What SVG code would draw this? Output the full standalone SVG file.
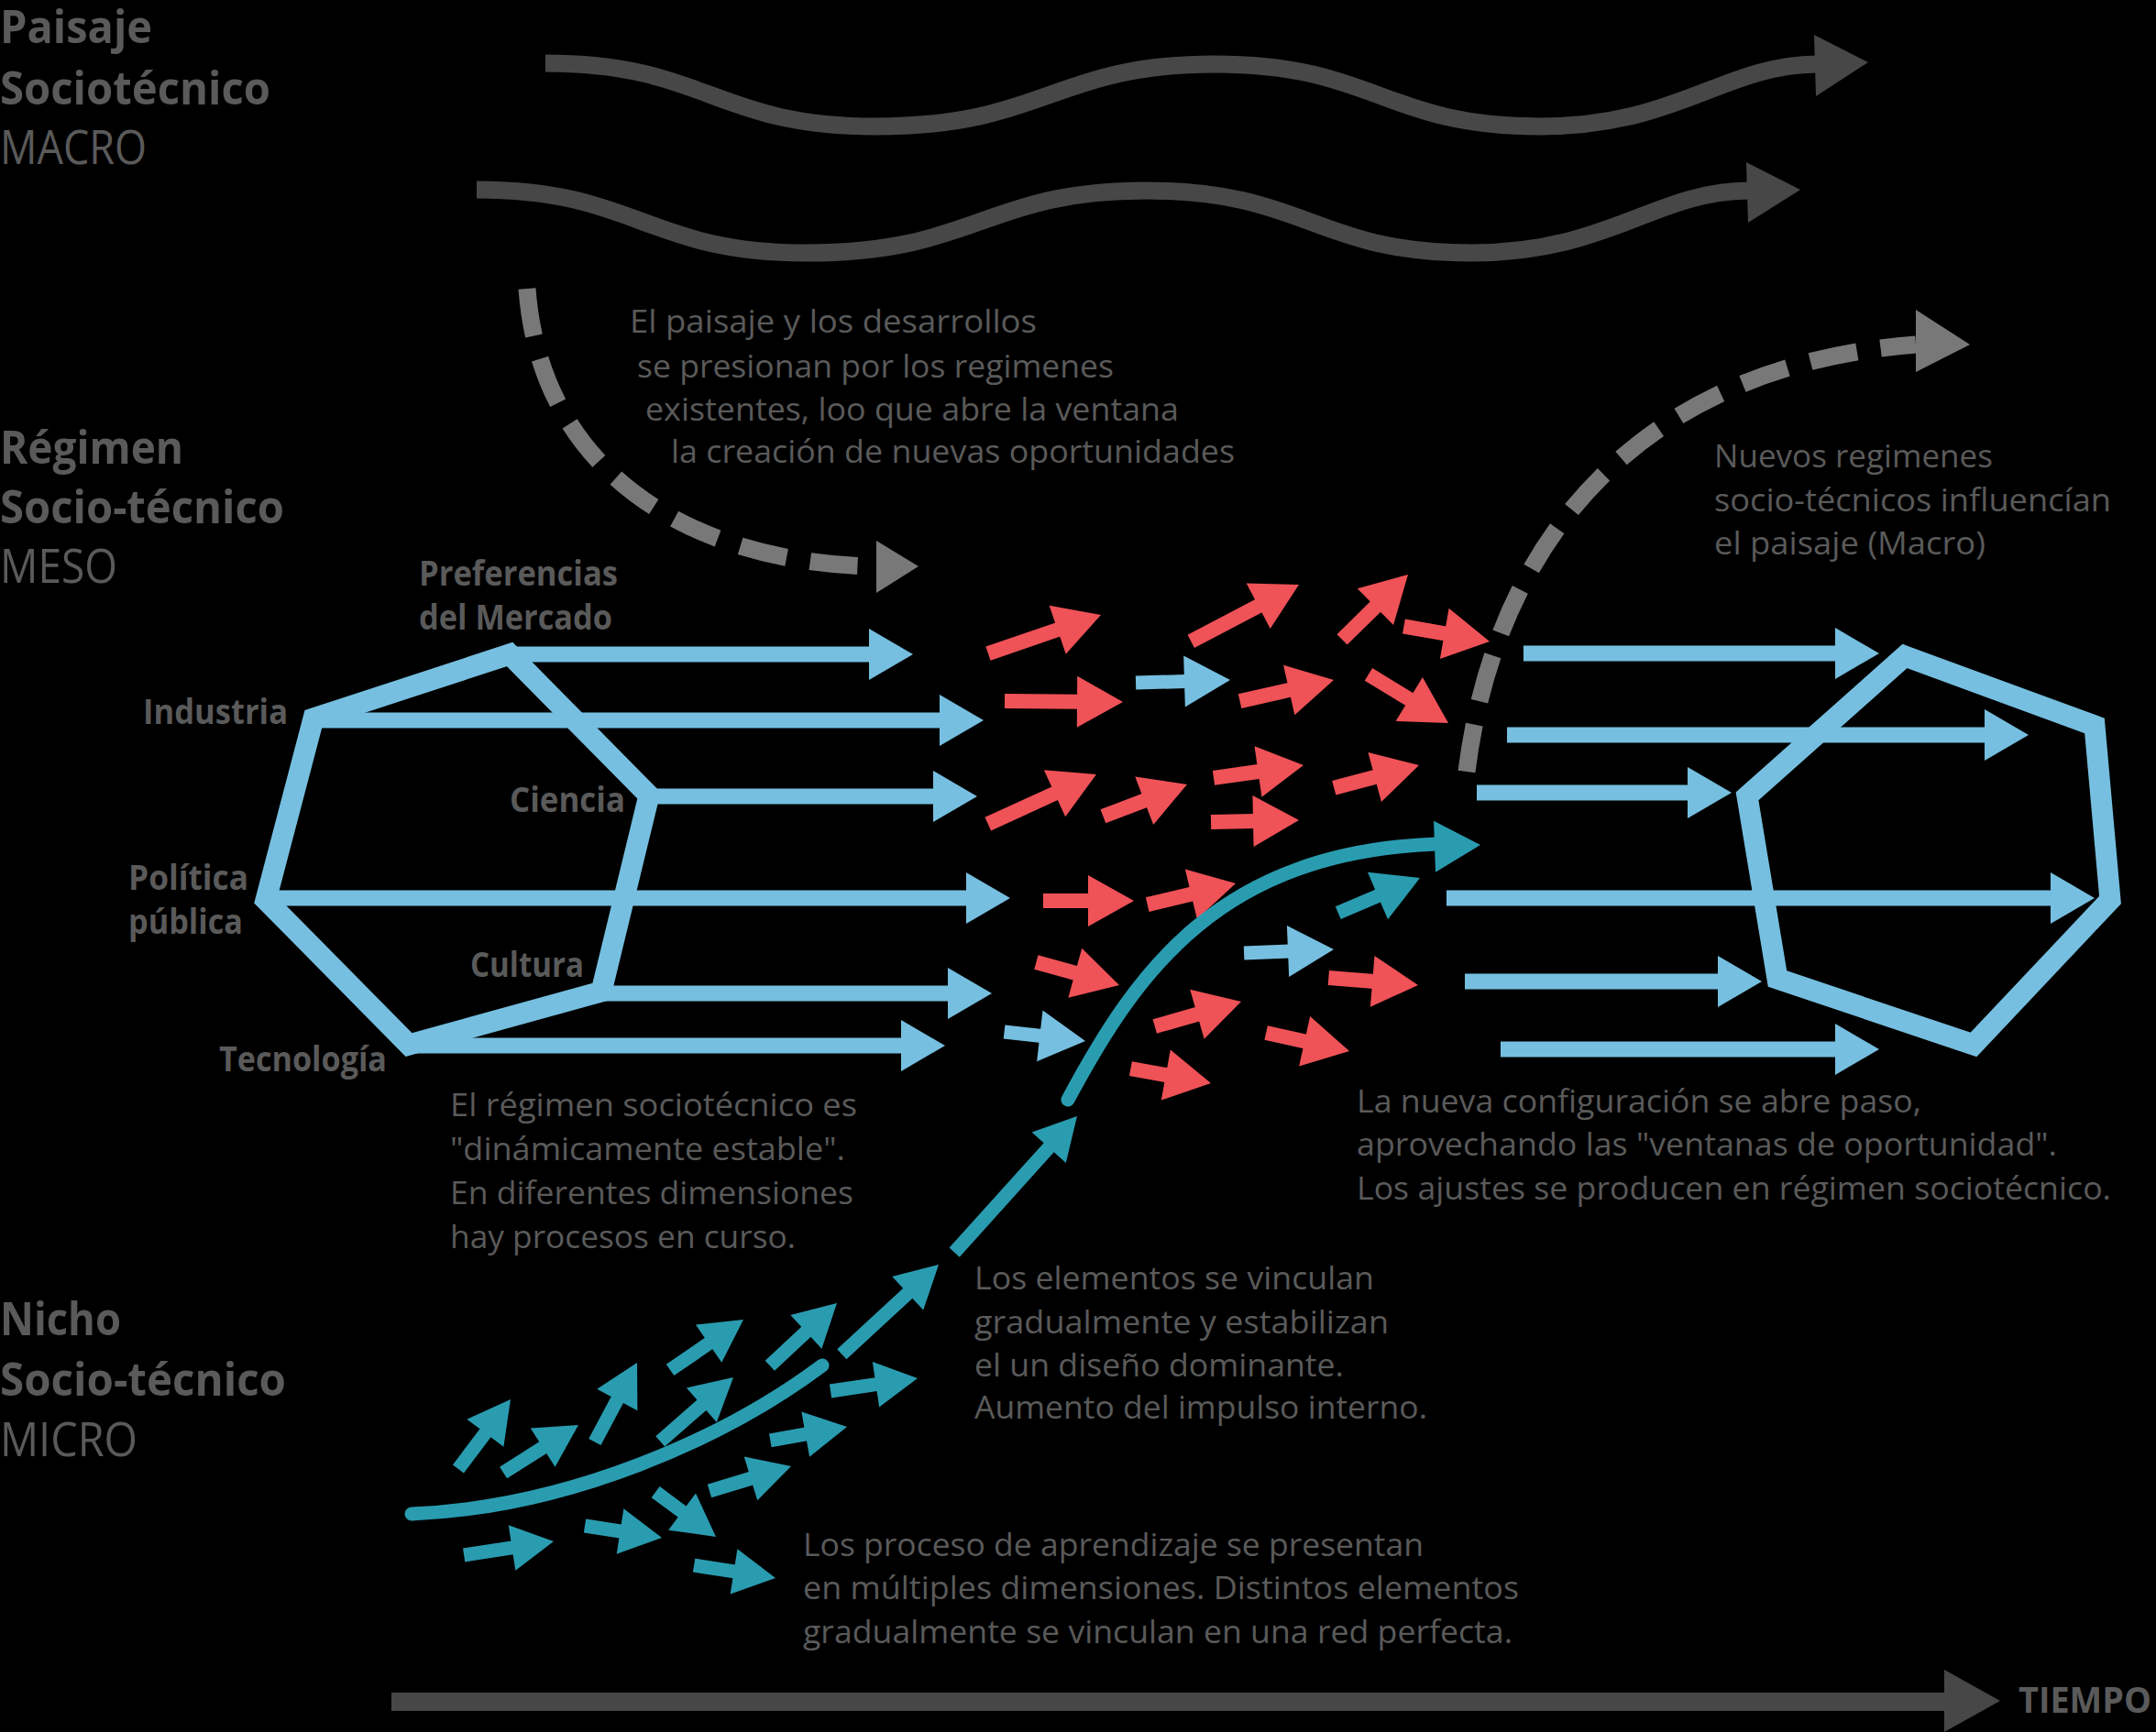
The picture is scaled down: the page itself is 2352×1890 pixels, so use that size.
<svg xmlns="http://www.w3.org/2000/svg" width="2352" height="1890" viewBox="0 0 2352 1890">
<defs>
<style>
.t{font-family:"Open Sans","Noto Sans","Liberation Sans",sans-serif;fill:#5a5a5a;font-size:34px;font-weight:500}
.b{font-weight:700}
.lb{font-size:38px;font-weight:700}
.ti{font-size:51px}
.wave{fill:none;stroke:#474747;stroke-width:19}
.wh{fill:#474747}
.dash{fill:none;stroke:#787878;stroke-width:19;stroke-dasharray:52 26}
.dh{fill:#787878}
.hex{fill:none;stroke:#76bfe0;stroke-width:23;stroke-linejoin:miter}
.la{stroke:#76bfe0;fill:#76bfe0;stroke-width:17}
.ra{stroke:#ef5257;fill:#ef5257;stroke-width:16}
.ba{stroke:#76bfe0;fill:#76bfe0;stroke-width:15}
.ta{stroke:#2a9cb0;fill:#2a9cb0;stroke-width:15}
.tc{fill:none;stroke:#2a9cb0;stroke-width:15;stroke-linecap:round}
</style>
<polygon id="h" points="0,0 -50,-28 -50,28" stroke="none"/>
<polygon id="hs" points="0,0 -46,-25 -46,25" stroke="none"/>
<polygon id="hb" points="0,0 -48,-28 -48,28" stroke="none"/>
</defs>
<rect width="2352" height="1890" fill="#000"/>

<g id="title-macro" class="t">
<text x="0" y="47" class="b ti" textLength="166" lengthAdjust="spacingAndGlyphs">Paisaje</text>
<text x="0" y="114" class="b ti" textLength="295" lengthAdjust="spacingAndGlyphs">Sociotécnico</text>
<text x="0" y="179" class="ti" textLength="160" lengthAdjust="spacingAndGlyphs">MACRO</text>
</g>
<g id="title-meso" class="t">
<text x="0" y="506" class="b ti" textLength="200" lengthAdjust="spacingAndGlyphs">Régimen</text>
<text x="0" y="571" class="b ti" textLength="310" lengthAdjust="spacingAndGlyphs">Socio-técnico</text>
<text x="0" y="636" class="ti" textLength="128" lengthAdjust="spacingAndGlyphs">MESO</text>
</g>
<g id="title-micro" class="t">
<text x="0" y="1457" class="b ti" textLength="132" lengthAdjust="spacingAndGlyphs">Nicho</text>
<text x="0" y="1523" class="b ti" textLength="312" lengthAdjust="spacingAndGlyphs">Socio-técnico</text>
<text x="0" y="1589" class="ti" textLength="150" lengthAdjust="spacingAndGlyphs">MICRO</text>
</g>

<g id="connectors">
<!-- landscape waves -->
<path class="wave" d="M595,69 C770,69 780,138 955,138 C1140,138 1150,70 1325,70 C1500,70 1510,138 1680,138 C1830,138 1880,71 1982,70"/>
<polygon class="wh" points="1979,38 2038,68 1981,105"/>
<path class="wave" d="M520,207 C695,207 705,276 880,276 C1065,276 1075,208 1250,208 C1425,208 1435,276 1605,276 C1755,276 1805,209 1907,208"/>
<polygon class="wh" points="1905,177 1964,207 1907,243"/>

<!-- dashed pressure arrows -->
<path class="dash" d="M575,315 C590,520 760,615 955,618"/>
<polygon class="dh" points="956,590 1002,618 956,647"/>
<path class="dash" d="M1600,842 C1630,600 1780,400 2090,376"/>
<polygon class="dh" points="2090,338 2149,376 2090,406"/>

<!-- left regime arrows -->
<g class="la" transform="translate(996,714)"><line x1="-437" x2="-46"/><use href="#hb"/></g>
<g class="la" transform="translate(1073,786)"><line x1="-731" x2="-46"/><use href="#hb"/></g>
<g class="la" transform="translate(1066,869)"><line x1="-358" x2="-46"/><use href="#hb"/></g>
<g class="la" transform="translate(1102,980)"><line x1="-812" x2="-46"/><use href="#hb"/></g>
<g class="la" transform="translate(1082,1084)"><line x1="-424" x2="-46"/><use href="#hb"/></g>
<g class="la" transform="translate(1031,1141)"><line x1="-585" x2="-46"/><use href="#hb"/></g>

<!-- right regime arrows -->
<g class="la" transform="translate(2050,713)"><line x1="-388" x2="-46"/><use href="#hb"/></g>
<g class="la" transform="translate(2213,802)"><line x1="-569" x2="-46"/><use href="#hb"/></g>
<g class="la" transform="translate(1889,865)"><line x1="-278" x2="-46"/><use href="#hb"/></g>
<g class="la" transform="translate(2285,980)"><line x1="-707" x2="-46"/><use href="#hb"/></g>
<g class="la" transform="translate(1922,1071)"><line x1="-324" x2="-46"/><use href="#hb"/></g>
<g class="la" transform="translate(2050,1145)"><line x1="-413" x2="-46"/><use href="#hb"/></g>

<!-- red turbulence arrows -->
<g class="ra" transform="translate(1201,671) rotate(-18.9)"><line x1="-130" x2="-48"/><use href="#h"/></g>
<g class="ra" transform="translate(1417,638) rotate(-27.7)"><line x1="-133" x2="-48"/><use href="#h"/></g>
<g class="ra" transform="translate(1536,627) rotate(-44.6)"><line x1="-101" x2="-48"/><use href="#h"/></g>
<g class="ra" transform="translate(1625,700) rotate(10)"><line x1="-95" x2="-48"/><use href="#h"/></g>
<g class="ra" transform="translate(1225,766) rotate(0.4)"><line x1="-129" x2="-48"/><use href="#h"/></g>
<g class="ra" transform="translate(1455,742) rotate(-12.7)"><line x1="-105" x2="-48"/><use href="#h"/></g>
<g class="ra" transform="translate(1580,789) rotate(31.4)"><line x1="-102" x2="-48"/><use href="#h"/></g>
<g class="ra" transform="translate(1196,845) rotate(-24.6)"><line x1="-130" x2="-48"/><use href="#h"/></g>
<g class="ra" transform="translate(1295,856) rotate(-20.8)"><line x1="-98" x2="-48"/><use href="#h"/></g>
<g class="ra" transform="translate(1422,835) rotate(-8.1)"><line x1="-99" x2="-48"/><use href="#h"/></g>
<g class="ra" transform="translate(1548,835) rotate(-15)"><line x1="-96" x2="-48"/><use href="#h"/></g>
<g class="ra" transform="translate(1417,895) rotate(-1.2)"><line x1="-96" x2="-48"/><use href="#h"/></g>
<g class="ra" transform="translate(1237,983)"><line x1="-99" x2="-48"/><use href="#h"/></g>
<g class="ra" transform="translate(1348,964) rotate(-13.5)"><line x1="-99" x2="-48"/><use href="#h"/></g>
<g class="ra" transform="translate(1221,1075) rotate(15.4)"><line x1="-94" x2="-48"/><use href="#h"/></g>
<g class="ra" transform="translate(1547,1075) rotate(4.7)"><line x1="-98" x2="-48"/><use href="#h"/></g>
<g class="ra" transform="translate(1354,1093) rotate(-16)"><line x1="-98" x2="-48"/><use href="#h"/></g>
<g class="ra" transform="translate(1472,1147) rotate(12.4)"><line x1="-93" x2="-48"/><use href="#h"/></g>
<g class="ra" transform="translate(1321,1182) rotate(10.3)"><line x1="-89" x2="-48"/><use href="#h"/></g>

<!-- small blue and teal arrows in regime -->
<g class="ba" transform="translate(1342,742) rotate(-1.7)"><line x1="-103" x2="-48"/><use href="#h"/></g>
<g class="ba" transform="translate(1455,1036) rotate(-2.3)"><line x1="-98" x2="-48"/><use href="#h"/></g>
<g class="ba" transform="translate(1184,1136) rotate(6.5)"><line x1="-89" x2="-48"/><use href="#h"/></g>
<g class="ta" transform="translate(1549,958) rotate(-23.1)"><line x1="-97" x2="-48"/><use href="#h"/></g>

<!-- niche curve and emerging trajectory -->
<path class="tc" d="M449,1652 C620,1645 790,1570 897,1490"/>
<path class="tc" d="M1165,1200 C1240,1060 1330,930 1567,921"/>
<g class="ta" transform="translate(1615,922) rotate(-2)"><use href="#h"/></g>
<g class="ta" transform="translate(1024,1380) rotate(-42.8)"><line x1="-144" x2="-44"/><use href="#hs"/></g>
<g class="ta" transform="translate(1175,1218) rotate(-48)"><line x1="-200" x2="-44"/><use href="#hs"/></g>

<!-- niche small arrows -->
<g class="ta" transform="translate(557,1527) rotate(-53.1)"><line x1="-95" x2="-44"/><use href="#hs"/></g>
<g class="ta" transform="translate(631,1555) rotate(-32.4)"><line x1="-97" x2="-44"/><use href="#hs"/></g>
<g class="ta" transform="translate(695,1487) rotate(-61.9)"><line x1="-98" x2="-44"/><use href="#hs"/></g>
<g class="ta" transform="translate(811,1440) rotate(-34.5)"><line x1="-97" x2="-44"/><use href="#hs"/></g>
<g class="ta" transform="translate(800,1503) rotate(-41.2)"><line x1="-106" x2="-44"/><use href="#hs"/></g>
<g class="ta" transform="translate(913,1422) rotate(-43)"><line x1="-100" x2="-44"/><use href="#hs"/></g>
<g class="ta" transform="translate(1001,1504) rotate(-8.4)"><line x1="-96" x2="-44"/><use href="#hs"/></g>
<g class="ta" transform="translate(924,1557) rotate(-10.1)"><line x1="-85" x2="-44"/><use href="#hs"/></g>
<g class="ta" transform="translate(863,1600) rotate(-16.9)"><line x1="-93" x2="-44"/><use href="#hs"/></g>
<g class="ta" transform="translate(781,1677) rotate(36.6)"><line x1="-82" x2="-44"/><use href="#hs"/></g>
<g class="ta" transform="translate(722,1678) rotate(8.8)"><line x1="-85" x2="-44"/><use href="#hs"/></g>
<g class="ta" transform="translate(604,1682) rotate(-8.7)"><line x1="-99" x2="-44"/><use href="#hs"/></g>
<g class="ta" transform="translate(846,1722) rotate(8.9)"><line x1="-90" x2="-44"/><use href="#hs"/></g>
</g>

<g id="hex-left">
<polygon class="hex" points="342,784 556,714 708,868 656,1082 446,1140 290,982"/>
<g class="t">
<text x="457" y="639" class="lb" textLength="217" lengthAdjust="spacingAndGlyphs">Preferencias</text>
<text x="457" y="687" class="lb" textLength="211" lengthAdjust="spacingAndGlyphs">del Mercado</text>
<text x="156" y="790" class="lb" textLength="158" lengthAdjust="spacingAndGlyphs">Industria</text>
<text x="556" y="886" class="lb" textLength="126" lengthAdjust="spacingAndGlyphs">Ciencia</text>
<text x="140" y="971" class="lb" textLength="131" lengthAdjust="spacingAndGlyphs">Política</text>
<text x="140" y="1019" class="lb" textLength="125" lengthAdjust="spacingAndGlyphs">pública</text>
<text x="513" y="1066" class="lb" textLength="124" lengthAdjust="spacingAndGlyphs">Cultura</text>
<text x="239" y="1169" class="lb" textLength="183" lengthAdjust="spacingAndGlyphs">Tecnología</text>
</g>
</g>

<g id="hex-right">
<polygon class="hex" points="2078,716 2285,792 2302,982 2153,1140 1939,1068 1906,869"/>
</g>

<g id="note-paisaje" class="t">
<text x="687" y="363" textLength="444" lengthAdjust="spacingAndGlyphs">El paisaje y los desarrollos</text>
<text x="695" y="412" textLength="520" lengthAdjust="spacingAndGlyphs">se presionan por los regimenes</text>
<text x="704" y="459" textLength="582" lengthAdjust="spacingAndGlyphs">existentes, loo que abre la ventana</text>
<text x="732" y="505" textLength="615" lengthAdjust="spacingAndGlyphs">la creación de nuevas oportunidades</text>
</g>

<g id="note-nuevos" class="t">
<text x="1870" y="510" textLength="304" lengthAdjust="spacingAndGlyphs">Nuevos regimenes</text>
<text x="1870" y="558" textLength="433" lengthAdjust="spacingAndGlyphs">socio-técnicos influencían</text>
<text x="1870" y="605" textLength="296" lengthAdjust="spacingAndGlyphs">el paisaje (Macro)</text>
</g>

<g id="note-regimen" class="t">
<text x="491" y="1218" textLength="444" lengthAdjust="spacingAndGlyphs">El régimen sociotécnico es</text>
<text x="491" y="1266" textLength="431" lengthAdjust="spacingAndGlyphs">"dinámicamente estable".</text>
<text x="491" y="1314" textLength="440" lengthAdjust="spacingAndGlyphs">En diferentes dimensiones</text>
<text x="491" y="1362" textLength="377" lengthAdjust="spacingAndGlyphs">hay procesos en curso.</text>
</g>

<g id="note-elementos" class="t">
<text x="1063" y="1407" textLength="436" lengthAdjust="spacingAndGlyphs">Los elementos se vinculan</text>
<text x="1063" y="1455" textLength="452" lengthAdjust="spacingAndGlyphs">gradualmente y estabilizan</text>
<text x="1063" y="1502" textLength="403" lengthAdjust="spacingAndGlyphs">el un diseño dominante.</text>
<text x="1063" y="1548" textLength="494" lengthAdjust="spacingAndGlyphs">Aumento del impulso interno.</text>
</g>

<g id="note-procesos" class="t">
<text x="876" y="1698" textLength="677" lengthAdjust="spacingAndGlyphs">Los proceso de aprendizaje se presentan</text>
<text x="876" y="1745" textLength="781" lengthAdjust="spacingAndGlyphs">en múltiples dimensiones. Distintos elementos</text>
<text x="876" y="1793" textLength="774" lengthAdjust="spacingAndGlyphs">gradualmente se vinculan en una red perfecta.</text>
</g>

<g id="note-nueva" class="t">
<text x="1480" y="1214" textLength="616" lengthAdjust="spacingAndGlyphs">La nueva configuración se abre paso,</text>
<text x="1480" y="1261" textLength="764" lengthAdjust="spacingAndGlyphs">aprovechando las "ventanas de oportunidad".</text>
<text x="1480" y="1309" textLength="823" lengthAdjust="spacingAndGlyphs">Los ajustes se producen en régimen sociotécnico.</text>
</g>

<g id="axis">
<line x1="427" y1="1857" x2="2123" y2="1857" stroke="#474747" stroke-width="20"/>
<polygon class="wh" points="2121,1822 2182,1856 2121,1890"/>
<text x="2202" y="1869" class="t b" style="font-size:40px" textLength="145" lengthAdjust="spacingAndGlyphs">TIEMPO</text>
</g>
</svg>
